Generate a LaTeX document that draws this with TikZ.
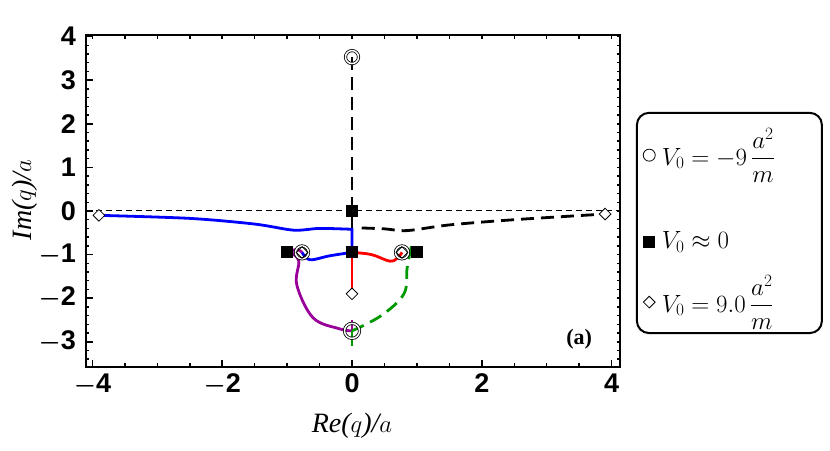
\documentclass[tikz,border=0pt]{standalone}
\usepackage{amsmath}
\usepackage{fontspec}
\setmainfont{Liberation Serif}
\setsansfont{Liberation Sans}
\usetikzlibrary{shapes.geometric}
\begin{document}
\begin{tikzpicture}[x=64.9pt,y=43.6pt,
  circ/.style={circle,draw,inner sep=0pt,minimum size=13pt,double,double distance=1.5pt,line width=0.8pt},
  sq/.style={rectangle,fill=black,inner sep=0pt,minimum size=12pt},
  dia/.style={diamond,draw,fill=white,inner sep=0pt,minimum width=12pt,minimum height=12pt,line width=0.8pt},
  tick/.style={font=\sffamily\bfseries\fontsize{27}{27}\selectfont},
  curve/.style={line width=2.8pt},
  dsh/.style={line width=2.8pt,dash pattern=on 13pt off 7pt}]
\useasboundingbox (-5.424,-5.505) rectangle (7.365,4.839);
% grid line
\draw[dash pattern=on 6pt off 4pt,line width=1pt] (-4.10,0) -- (4.13,0);
% markers
\coordinate (ctop) at (0,3.53);
\coordinate (cl) at (-0.77,-0.95);
\coordinate (cr) at (0.77,-0.95);
\coordinate (cb) at (0,-2.75);
\coordinate (dl) at (-3.9,-0.1);
\coordinate (dr) at (3.9,-0.07);
\coordinate (dc) at (0,-1.9);
\coordinate (z0) at (0,0);
\coordinate (zc) at (0,-0.95);
% curves
\draw[dsh] (ctop) -- (z0);
\draw[curve] (z0) -- (0,-0.4);
\draw[curve,blue] plot[smooth,tension=0.5] coordinates {(dl) (-2.5,-0.17) (-1.5,-0.3) (-0.9,-0.44) (-0.5,-0.4) (0,-0.42)} -- (zc);
\draw[curve,blue] plot[smooth,tension=0.6] coordinates {(zc) (-0.35,-1.03) (-0.62,-1.12) (-0.72,-1.05) (cl)};
\draw[curve,red] (zc) -- (dc);
\draw[curve,red] plot[smooth,tension=0.6] coordinates {(zc) (0.3,-1.0) (0.58,-1.15) (0.7,-1.08) (cr)};
\draw[curve,violet!80!magenta] plot[smooth,tension=0.6] coordinates {(cl) (-0.85,-0.88) (-0.93,-0.95) (-0.82,-1.15) (-0.85,-1.7) (-0.6,-2.45) (-0.2,-2.7) (cb)};
\draw[curve,violet!80!magenta] (0,-2.5) -- (cb);
\draw[dsh,green!60!black] plot[smooth,tension=0.6] coordinates {(cb) (0.45,-2.4) (0.8,-1.9) (0.85,-1.3) (0.92,-0.78)};
\draw[curve,green!60!black] (cb) -- (0,-3.1);
\draw[dsh] plot[smooth,tension=0.5] coordinates {(0.15,-0.39) (0.5,-0.41) (0.85,-0.45) (1.5,-0.32) (2.5,-0.2) (dr)};
\node[sq] (s0) at (z0) {};
\node[sq] (sc) at (zc) {};
\node[sq] (sl) at (-1.0,-0.95) {};
\node[sq] (sr) at (1.0,-0.95) {};
\node[circ] (nctop) at (ctop) {};
\node[circ] (ncl) at (cl) {};
\node[circ] (ncr) at (cr) {};
\node[circ,minimum size=15pt] (ncb) at (cb) {};
\node[dia,fill=none] (ndl2) at (cl) {};
\node[dia,fill=none] (ndr2) at (cr) {};
\node[dia] (ndl) at (dl) {};
\node[dia] (ndr) at (dr) {};
\node[dia] (ndc) at (dc) {};
% frame
\draw[line width=2.5pt] (-4.10,-3.58) rectangle (4.13,4.04);
\foreach \x in {-4,-3.5,...,4}{
  \draw[line width=1.5pt] (\x,-3.58) -- ++(0,4pt);
  \draw[line width=1.5pt] (\x,4.04) -- ++(0,-4pt);}
\foreach \y in {-3.4,-3.2,...,4.0}{
  \draw[line width=1.5pt] (-4.10,\y) -- ++(3pt,0);
  \draw[line width=1.5pt] (4.13,\y) -- ++(-3pt,0);}
\foreach \x in {-4,-2,0,2,4}{
  \draw[line width=1.5pt] (\x,-3.58) -- ++(0,7pt);
  \node[tick,anchor=north] (xt\x) at (\x,-3.66) {\ifnum\x<0 $\boldsymbol{-}$\number\numexpr-\x\relax\else\x\fi};}
\foreach \y in {-3,...,4}{
  \draw[line width=1.5pt] (-4.10,\y) -- ++(7pt,0);
  \node[tick,anchor=east] (yt\y) at (-4.2,\y) {\ifnum\y<0 $\boldsymbol{-}$\number\numexpr-\y\relax\else\y\fi};}
\node[font=\fontsize{28}{28}\selectfont\itshape] (xl) at (0,-4.92) {Re($q$)/$a$};
\node[font=\fontsize{28}{28}\selectfont\itshape,rotate=90] (yl) at (-5.05,0.25) {Im($q$)/$a$};
\node[font=\bfseries\fontsize{22}{22}\selectfont] (lab) at (3.5,-2.93) {(a)};
% legend
\draw[line width=2pt,rounded corners=12pt] (4.39,-2.80) rectangle (7.24,2.25);
\node[circle,draw,inner sep=0pt,minimum size=12pt,line width=0.8pt] (l1) at (4.58,1.28) {};
\node[anchor=west,font=\fontsize{27}{27}\selectfont] (t1) at (4.72,1.28) {$V_0=-9\,\dfrac{a^2}{m}$};
\node[sq] (l2) at (4.58,-0.71) {};
\node[anchor=west,font=\fontsize{27}{27}\selectfont] (t2) at (4.72,-0.71) {$V_0\approx 0$};
\node[dia] (l3) at (4.58,-2.09) {};
\node[anchor=west,font=\fontsize{27}{27}\selectfont] (t3) at (4.72,-2.09) {$V_0=9.0\,\dfrac{a^2}{m}$};
\end{tikzpicture}
\end{document}
